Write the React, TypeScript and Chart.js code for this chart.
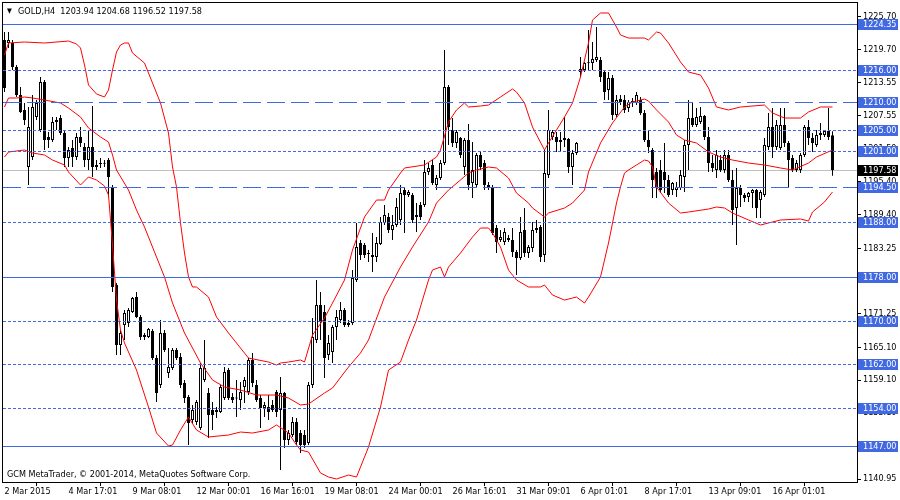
import React, { useEffect, useRef } from "react";
import { Chart, registerables } from "chart.js";

Chart.register(...registerables);

const symbolName = "GOLD,H4";
const copyrightText = "GCM MetaTrader, © 2001-2014, MetaQuotes Software Corp.";

const openPrices = [
  1221.42, 1220.87, 1220.87, 1216.47, 1211.34, 1208.59, 1198.14, 1199.97, 1207.3, 1204.92,
  1213.72, 1203.64, 1203.09, 1206.39, 1207.12, 1204.37, 1199.79, 1201.62, 1199.97, 1203.64,
  1201.81, 1199.42, 1201.81, 1198.51, 1198.69, 1198.87, 1199.42, 1194.48, 1176.51, 1165.52,
  1169.18, 1169.55, 1171.57, 1174.31, 1170.65, 1167.35, 1166.98, 1168.08, 1163.13, 1158.19,
  1167.72, 1160.38, 1161.3, 1164.6, 1163.32, 1158.55, 1155.99, 1151.77, 1151.4, 1150.31,
  1159.1, 1156.72, 1153.6, 1153.24, 1153.24, 1155.8, 1160.93, 1155.99, 1155.8, 1155.44,
  1157.82, 1156.9, 1162.77, 1158.19, 1155.8, 1153.97, 1154.15, 1154.52, 1156.9, 1153.6,
  1156.72, 1148.11, 1149.02, 1151.4, 1149.39, 1149.02, 1147.56, 1158.19, 1166.43, 1172.85,
  1171.57, 1163.68, 1164.23, 1168.82, 1170.1, 1171.93, 1169.55, 1169.55, 1177.43, 1184.21,
  1183.85, 1182.38, 1181.65, 1181.65, 1184.03, 1187.88, 1188.98, 1186.59, 1187.51, 1188.43,
  1193.92, 1193.01, 1193.01, 1188.98, 1191.18, 1191.18, 1197.22, 1198.51, 1194.84, 1196.12,
  1198.87, 1212.8, 1204.92, 1202.54, 1203.46, 1198.14, 1203.09, 1195.21, 1194.84, 1200.34,
  1198.87, 1194.84, 1194.29, 1186.96, 1184.76, 1184.4, 1185.13, 1184.76, 1182.56, 1181.46,
  1186.59, 1182.38, 1183.3, 1186.59, 1187.14, 1182.01, 1196.67, 1203.64, 1203.64, 1203.09,
  1203.09, 1203.27, 1198.14, 1200.71, 1215.55, 1215.92, 1217.2, 1217.2, 1217.75, 1217.75,
  1215.55, 1212.25, 1214.45, 1207.67, 1210.6, 1210.42, 1208.95, 1209.87, 1209.87, 1210.42,
  1208.04, 1203.09, 1201.26, 1197.22, 1197.59, 1197.22, 1195.76, 1193.92, 1193.92, 1194.29,
  1196.31, 1202.17, 1207.12, 1205.84, 1206.39, 1207.49, 1203.64, 1198.87, 1197.59, 1199.42,
  1197.59, 1200.34, 1195.76, 1190.63, 1194.29, 1193.01, 1192.64, 1193.37, 1193.92, 1192.09,
  1193.01, 1201.81, 1205.47, 1201.81, 1201.62, 1205.84, 1202.54, 1199.79, 1197.59, 1197.59,
  1200.34, 1205.47, 1203.46, 1202.17, 1204.0, 1204.0, 1204.74, 1203.94,
];

const highPrices = [
  1222.88, 1222.88, 1221.42, 1216.84, 1212.8, 1209.87, 1209.14, 1211.34, 1210.42, 1214.64,
  1214.09, 1204.56, 1207.3, 1207.3, 1207.67, 1204.92, 1201.81, 1203.09, 1204.37, 1205.47,
  1202.54, 1204.92, 1209.32, 1199.42, 1199.79, 1199.42, 1199.79, 1194.84, 1176.88, 1168.27,
  1171.93, 1172.3, 1174.31, 1175.23, 1171.02, 1167.72, 1168.63, 1168.45, 1163.68, 1170.1,
  1168.27, 1164.97, 1164.97, 1164.97, 1164.05, 1159.1, 1156.35, 1154.52, 1155.44, 1162.22,
  1166.43, 1157.64, 1155.07, 1154.15, 1158.19, 1161.48, 1161.3, 1156.72, 1159.1, 1158.74,
  1159.65, 1163.13, 1164.05, 1159.1, 1156.35, 1155.07, 1156.35, 1155.44, 1157.27, 1159.65,
  1156.9, 1149.94, 1152.32, 1152.14, 1149.94, 1149.94, 1158.74, 1170.47, 1177.43, 1175.23,
  1172.85, 1167.35, 1169.18, 1171.93, 1173.4, 1172.3, 1170.1, 1179.26, 1187.88, 1184.76,
  1184.21, 1182.93, 1186.04, 1185.31, 1188.98, 1191.18, 1189.71, 1189.34, 1192.46, 1194.84,
  1194.29, 1193.92, 1193.37, 1191.54, 1191.73, 1199.42, 1198.87, 1199.42, 1196.67, 1199.42,
  1219.59, 1213.17, 1207.12, 1204.92, 1203.64, 1203.46, 1206.02, 1202.72, 1200.71, 1200.89,
  1199.42, 1195.39, 1194.84, 1187.51, 1186.59, 1186.96, 1185.68, 1186.96, 1182.93, 1188.98,
  1190.63, 1183.85, 1188.06, 1188.43, 1187.51, 1201.26, 1208.59, 1204.92, 1204.56, 1204.56,
  1207.3, 1203.46, 1201.26, 1202.72, 1218.3, 1217.39, 1223.25, 1221.05, 1223.8, 1218.3,
  1215.92, 1215.55, 1215.0, 1211.34, 1211.34, 1211.34, 1210.42, 1210.79, 1211.89, 1210.97,
  1208.59, 1204.92, 1201.62, 1197.96, 1199.42, 1202.54, 1196.67, 1195.39, 1195.39, 1197.59,
  1203.09, 1210.42, 1209.87, 1208.95, 1209.14, 1207.67, 1205.47, 1200.34, 1201.26, 1200.34,
  1201.26, 1201.26, 1197.59, 1197.96, 1194.84, 1193.37, 1193.56, 1194.11, 1194.11, 1193.92,
  1203.46, 1208.04, 1208.95, 1206.76, 1208.95, 1208.95, 1202.91, 1200.34, 1199.42, 1200.71,
  1205.84, 1206.76, 1204.37, 1204.92, 1206.21, 1204.92, 1208.95, 1204.68,
];

const lowPrices = [
  1211.89, 1219.95, 1215.92, 1210.97, 1208.04, 1205.84, 1194.84, 1199.42, 1206.76, 1204.56,
  1201.26, 1201.62, 1202.72, 1204.92, 1204.0, 1198.14, 1198.14, 1198.14, 1199.42, 1201.81,
  1198.14, 1197.59, 1196.31, 1197.59, 1197.96, 1198.14, 1192.64, 1175.23, 1163.68, 1163.68,
  1166.43, 1168.82, 1171.38, 1170.47, 1166.43, 1166.43, 1166.8, 1162.77, 1155.07, 1157.64,
  1164.23, 1159.47, 1160.93, 1162.77, 1157.64, 1154.89, 1147.19, 1151.22, 1150.86, 1149.94,
  1158.74, 1148.47, 1149.94, 1152.14, 1153.05, 1155.44, 1155.44, 1154.89, 1152.32, 1153.6,
  1154.89, 1156.35, 1157.82, 1155.07, 1150.31, 1152.32, 1151.77, 1153.24, 1152.32, 1142.61,
  1146.64, 1147.19, 1148.66, 1147.19, 1145.72, 1146.64, 1147.19, 1157.64, 1165.88, 1166.43,
  1159.47, 1162.77, 1162.22, 1166.43, 1169.55, 1168.82, 1168.82, 1169.18, 1177.07, 1181.1,
  1181.46, 1180.73, 1178.9, 1180.73, 1183.85, 1187.51, 1186.04, 1184.76, 1187.14, 1187.51,
  1186.04, 1192.64, 1187.88, 1186.23, 1188.43, 1190.81, 1196.67, 1194.84, 1193.92, 1195.76,
  1198.51, 1202.17, 1201.81, 1201.62, 1199.79, 1196.67, 1193.92, 1192.46, 1194.29, 1197.59,
  1193.92, 1193.92, 1185.68, 1182.38, 1184.4, 1183.85, 1184.4, 1181.65, 1178.35, 1181.1,
  1181.65, 1181.46, 1182.56, 1186.04, 1180.73, 1180.73, 1196.12, 1203.09, 1200.89, 1200.89,
  1201.81, 1197.04, 1194.84, 1200.34, 1214.64, 1215.55, 1215.92, 1215.92, 1217.39, 1213.72,
  1210.42, 1210.42, 1206.76, 1207.3, 1209.5, 1208.04, 1208.22, 1209.14, 1209.5, 1207.67,
  1202.72, 1200.71, 1192.46, 1192.46, 1193.37, 1193.37, 1192.64, 1193.01, 1192.64, 1193.92,
  1193.56, 1197.59, 1205.47, 1205.47, 1206.02, 1203.09, 1197.22, 1197.22, 1196.12, 1197.22,
  1197.04, 1195.39, 1187.51, 1183.85, 1190.81, 1191.73, 1191.73, 1190.63, 1188.79, 1188.79,
  1192.64, 1201.26, 1199.79, 1201.26, 1201.26, 1201.81, 1194.48, 1197.22, 1197.22, 1197.04,
  1199.97, 1202.17, 1200.89, 1201.81, 1203.09, 1203.64, 1203.09, 1196.52,
];

const closePrices = [
  1212.62, 1221.42, 1216.47, 1211.34, 1208.22, 1206.76, 1205.47, 1209.14, 1209.87, 1213.72,
  1203.09, 1203.09, 1206.39, 1206.76, 1204.37, 1199.79, 1201.26, 1199.97, 1203.64, 1202.54,
  1199.42, 1201.81, 1198.14, 1198.14, 1198.87, 1198.75, 1196.31, 1176.15, 1165.52, 1167.72,
  1171.38, 1171.93, 1174.13, 1170.65, 1166.98, 1166.98, 1168.45, 1163.13, 1156.72, 1167.72,
  1164.6, 1161.48, 1164.6, 1163.13, 1158.19, 1155.8, 1151.22, 1153.6, 1155.07, 1161.3,
  1161.3, 1152.69, 1152.69, 1153.6, 1157.82, 1160.57, 1155.8, 1155.44, 1155.7, 1156.9,
  1159.1, 1162.77, 1158.55, 1155.44, 1153.97, 1154.52, 1153.24, 1153.6, 1153.24, 1156.72,
  1148.11, 1149.39, 1151.4, 1147.74, 1147.19, 1147.19, 1158.19, 1166.98, 1172.85, 1169.73,
  1163.13, 1165.88, 1168.82, 1170.65, 1171.93, 1169.18, 1169.18, 1177.8, 1183.48, 1182.01,
  1182.01, 1182.2, 1182.01, 1184.21, 1188.06, 1189.34, 1186.59, 1187.51, 1190.81, 1193.37,
  1193.01, 1193.56, 1188.43, 1189.34, 1188.98, 1197.22, 1197.96, 1195.21, 1196.12, 1198.87,
  1212.8, 1205.47, 1202.54, 1204.56, 1200.34, 1203.09, 1194.84, 1197.59, 1200.34, 1198.14,
  1194.84, 1194.48, 1186.04, 1184.4, 1185.31, 1186.23, 1184.76, 1182.56, 1181.46, 1186.23,
  1182.38, 1183.48, 1186.59, 1186.96, 1181.65, 1197.04, 1204.92, 1204.56, 1202.72, 1202.72,
  1203.46, 1198.14, 1200.71, 1202.54, 1216.1, 1217.2, 1217.15, 1217.94, 1218.3, 1214.64,
  1211.89, 1214.45, 1207.67, 1210.42, 1210.05, 1208.59, 1210.05, 1210.24, 1211.34, 1208.04,
  1203.09, 1201.81, 1195.76, 1194.48, 1193.92, 1195.76, 1193.01, 1195.21, 1194.48, 1196.67,
  1202.17, 1207.12, 1205.84, 1207.3, 1207.49, 1203.64, 1198.87, 1197.96, 1200.34, 1197.59,
  1200.34, 1195.76, 1190.26, 1194.29, 1193.01, 1192.46, 1193.37, 1193.92, 1190.63, 1193.56,
  1202.17, 1205.47, 1201.81, 1205.84, 1205.84, 1202.54, 1199.42, 1197.59, 1198.87, 1200.34,
  1205.47, 1203.46, 1202.54, 1204.0, 1204.37, 1204.74, 1203.64, 1197.58,
];

// Bollinger bands, bar index -> value
const upperBandBars = [
  0, 1, 5, 10, 16, 18, 19, 20, 21, 23, 25, 26, 27, 28, 29, 30, 31, 32, 35, 37, 39, 41, 42, 43, 44,
  45, 46, 47, 48, 51, 53, 56, 58, 61, 66, 68, 69, 71, 74, 75, 77, 80, 82, 85, 87, 90, 93, 95, 96,
  99, 100, 105, 108, 109, 111, 113, 115, 116, 119, 121, 124, 127, 128, 130, 132, 135, 136, 140,
  142, 144, 146, 147, 149, 151, 153, 154, 156, 160, 161, 163, 164, 166, 169, 171, 174, 176, 178,
  181, 184, 190, 192, 195, 199, 201, 204, 207,
];
const upperBandValues = [
  1218.67, 1220.87, 1221.05, 1220.87, 1221.23, 1220.69, 1219.95, 1216.84, 1213.17, 1211.52,
  1210.97, 1212.25, 1215.92, 1219.22, 1220.5, 1220.87, 1220.87, 1219.04, 1217.2, 1213.54,
  1209.87, 1204.37, 1198.14, 1194.48, 1187.88, 1182.38, 1177.98, 1176.15, 1176.15, 1174.31,
  1170.65, 1167.72, 1165.88, 1163.13, 1162.4, 1161.85, 1162.22, 1162.4, 1162.77, 1162.4,
  1167.35, 1170.47, 1173.21, 1177.43, 1182.93, 1188.98, 1192.09, 1192.09, 1193.92, 1197.04,
  1197.96, 1198.51, 1199.97, 1201.26, 1206.39, 1208.59, 1209.87, 1209.14, 1209.32, 1209.5,
  1210.97, 1212.44, 1211.89, 1209.87, 1205.47, 1201.26, 1202.54, 1207.3, 1209.87, 1214.64,
  1220.87, 1225.08, 1226.37, 1226.37, 1223.8, 1222.33, 1221.78, 1221.78, 1221.42, 1222.88,
  1222.7, 1220.87, 1217.39, 1215.55, 1215.0, 1212.62, 1209.14, 1208.59, 1209.14, 1209.5,
  1208.04, 1207.12, 1207.12, 1208.22, 1209.14, 1209.14,
];

const middleBandBars = [
  0, 1, 3, 5, 7, 10, 14, 16, 19, 21, 24, 26, 27, 28, 31, 33, 35, 37, 40, 42, 45, 49, 52, 55, 59,
  63, 68, 71, 74, 76, 80, 82, 86, 89, 91, 95, 99, 102, 106, 108, 111, 114, 116, 118, 121, 123,
  126, 128, 131, 132, 135, 136, 140, 142, 145, 146, 149, 152, 155, 157, 160, 161, 163, 166, 168,
  170, 173, 176, 179, 182, 186, 190, 194, 197, 201, 203, 207,
];
const middleBandValues = [
  1209.14, 1210.79, 1210.79, 1210.97, 1210.79, 1210.42, 1209.87, 1208.95, 1207.3, 1205.29,
  1203.64, 1202.72, 1200.34, 1197.59, 1193.92, 1190.26, 1187.14, 1183.48, 1177.98, 1173.21,
  1167.72, 1162.22, 1159.1, 1157.82, 1157.27, 1156.35, 1156.35, 1155.8, 1154.52, 1154.7,
  1156.72, 1157.64, 1161.48, 1164.05, 1166.43, 1174.31, 1179.81, 1183.48, 1188.06, 1191.54,
  1193.92, 1195.76, 1197.04, 1197.59, 1198.14, 1197.96, 1196.12, 1193.37, 1191.54, 1190.63,
  1188.98, 1189.71, 1190.63, 1191.54, 1193.92, 1197.22, 1202.54, 1206.21, 1209.14, 1210.05,
  1210.6, 1210.24, 1208.59, 1206.39, 1204.0, 1203.09, 1202.54, 1200.89, 1199.97, 1199.42,
  1198.87, 1198.51, 1197.96, 1197.59, 1198.87, 1199.97, 1201.26,
];

const lowerBandBars = [
  0, 1, 5, 7, 10, 12, 15, 16, 19, 21, 23, 25, 26, 27, 28, 29, 30, 33, 36, 38, 41, 42, 44, 46, 48,
  51, 56, 59, 62, 66, 68, 71, 73, 74, 76, 79, 81, 83, 86, 88, 91, 94, 96, 99, 101, 103, 106, 107,
  109, 110, 111, 114, 117, 119, 121, 122, 124, 126, 128, 131, 134, 135, 137, 140, 142, 143, 145,
  146, 149, 151, 153, 154, 155, 156, 158, 160, 161, 162, 163, 166, 169, 171, 176, 178, 180, 182,
  186, 189, 191, 194, 199, 201, 202, 205, 207,
];
const lowerBandValues = [
  1199.97, 1200.89, 1201.26, 1200.71, 1200.34, 1199.42, 1198.51, 1197.22, 1194.84, 1196.31,
  1195.76, 1194.66, 1193.01, 1183.85, 1173.76, 1168.27, 1165.88, 1160.93, 1154.15, 1149.39,
  1147.01, 1147.19, 1149.94, 1152.32, 1149.94, 1148.66, 1149.02, 1149.57, 1149.39, 1149.94,
  1150.86, 1149.39, 1147.19, 1146.27, 1145.91, 1142.06, 1141.32, 1140.96, 1141.69, 1141.32,
  1146.82, 1154.15, 1160.93, 1162.4, 1166.43, 1170.1, 1177.43, 1179.26, 1179.81, 1177.98,
  1179.81, 1182.38, 1185.31, 1186.96, 1186.96, 1186.04, 1183.48, 1179.26, 1177.43, 1176.15,
  1176.15, 1176.51, 1174.68, 1173.76, 1174.13, 1174.31, 1173.21, 1174.31, 1177.98, 1184.21,
  1191.54, 1194.48, 1197.04, 1197.59, 1198.51, 1199.42, 1199.24, 1198.14, 1194.48, 1191.54,
  1189.71, 1189.89, 1190.44, 1190.81, 1190.63, 1189.71, 1188.43, 1187.51, 1187.88, 1188.43,
  1188.61, 1188.24, 1189.89, 1191.73, 1193.56,
];

const timeTickBars = [0, 16, 32, 48, 64, 80, 96, 112, 128, 144, 160, 176, 192];
const timeTickLabels = [
  "2 Mar 2015", "4 Mar 17:01", "9 Mar 08:01", "12 Mar 00:01", "16 Mar 16:01", "19 Mar 08:01",
  "24 Mar 00:01", "26 Mar 16:01", "31 Mar 09:01", "6 Apr 01:01", "8 Apr 17:01", "13 Apr 09:01",
  "16 Apr 01:01",
];

const priceTicks = [
  1225.7, 1219.7, 1213.55, 1207.55, 1201.5, 1195.4, 1189.4, 1183.25, 1177.25, 1171.25, 1165.1,
  1159.1, 1153.1, 1147.05, 1140.95,
];

const solidLevels = [1224.35, 1178.0, 1147.0];
const dashLevels = [1210.0, 1194.5];
const dotLevels = [1216.0, 1205.0, 1201.0, 1188.0, 1170.0, 1162.0, 1154.0];

const X_MIN = -0.375;
const X_MAX = 213.125;
const Y_MIN = 1140.41;
const Y_MAX = 1228.2;

const FONT_FAMILY = "'DejaVu Sans Condensed', 'DejaVu Sans', sans-serif";
const LEVEL_COLOR = "#4169e1";
const BAND_COLOR = "#ff0000";

const lastIndex = closePrices.length - 1;
const currentPrice = closePrices[lastIndex];

const overlayPlugin = {
  id: "mtOverlay",
  beforeDatasetsDraw(chart: any) {
    const { ctx, chartArea: a, scales } = chart;
    const py = Math.round(scales.y.getPixelForValue(currentPrice)) + 0.5;
    ctx.save();
    ctx.strokeStyle = "#c0c0c0";
    ctx.lineWidth = 1;
    ctx.beginPath();
    ctx.moveTo(a.left, py);
    ctx.lineTo(a.right, py);
    ctx.stroke();
    ctx.restore();
  },
  afterDatasetsDraw(chart: any) {
    const { ctx, chartArea: a, scales } = chart;
    ctx.save();
    const drawLevel = (v: number, dash: number[]) => {
      const py = Math.round(scales.y.getPixelForValue(v)) + 0.5;
      ctx.setLineDash(dash);
      ctx.strokeStyle = LEVEL_COLOR;
      ctx.lineWidth = 1;
      ctx.beginPath();
      ctx.moveTo(a.left, py);
      ctx.lineTo(a.right, py);
      ctx.stroke();
    };
    solidLevels.forEach((v) => drawLevel(v, []));
    dashLevels.forEach((v) => drawLevel(v, [18, 6]));
    dotLevels.forEach((v) => drawLevel(v, [3, 2]));
    ctx.restore();
  },
  afterDraw(chart: any) {
    const { ctx, chartArea: a, scales } = chart;
    ctx.save();
    // frame
    ctx.strokeStyle = "#000";
    ctx.lineWidth = 1;
    ctx.setLineDash([]);
    ctx.strokeRect(a.left - 0.5, a.top - 0.5, a.right - a.left + 1, a.bottom - a.top + 1);

    // title
    ctx.fillStyle = "#000";
    ctx.textBaseline = "middle";
    ctx.textAlign = "left";
    ctx.font = `7px ${FONT_FAMILY}`;
    ctx.fillText("▼", a.left + 4, a.top + 8.5);
    ctx.font = `9px ${FONT_FAMILY}`;
    const f = (v: number) => v.toFixed(2);
    const title = `${symbolName}  ${f(openPrices[lastIndex])} ${f(highPrices[lastIndex])} ${f(
      lowPrices[lastIndex]
    )} ${f(closePrices[lastIndex])}`;
    ctx.fillText(title, a.left + 15, a.top + 8.5);

    // copyright
    ctx.fillText(copyrightText, a.left + 4, a.bottom - 7);

    // price boxes
    const drawBox = (v: number, bg: string) => {
      const py = Math.round(scales.y.getPixelForValue(v));
      ctx.fillStyle = bg;
      ctx.fillRect(a.right + 1, py - 5, 40, 11);
      ctx.fillStyle = "#fff";
      ctx.font = `9px ${FONT_FAMILY}`;
      ctx.fillText(v.toFixed(2), a.right + 6, py + 0.5);
    };
    [...solidLevels, ...dashLevels, ...dotLevels].forEach((v) => drawBox(v, LEVEL_COLOR));
    drawBox(currentPrice, "#000");
    ctx.restore();
  },
};

export default function App() {
  const canvasRef = useRef<HTMLCanvasElement | null>(null);

  useEffect(() => {
    const canvas = canvasRef.current;
    if (!canvas) return;

    const bars = closePrices.map((_, i) => i);
    const wickData = bars.map((i) => ({ x: i, y: [lowPrices[i], highPrices[i]] }));
    const bodyData = bars.map((i) => ({ x: i, y: [openPrices[i], closePrices[i]] }));
    const bodyColors = bars.map((i) => (closePrices[i] > openPrices[i] ? "#ffffff" : "#000000"));
    const toPoints = (xs: number[], ys: number[]) => xs.map((x, k) => ({ x, y: ys[k] }));

    const bandStyle = {
      type: "line" as const,
      borderColor: BAND_COLOR,
      borderWidth: 1,
      pointRadius: 0,
      tension: 0,
      fill: false,
      order: 0,
    };

    const font = { family: FONT_FAMILY, size: 9 };

    const chart = new Chart(canvas, {
      type: "bar",
      data: {
        datasets: [
          { ...bandStyle, label: "Upper", data: toPoints(upperBandBars, upperBandValues) },
          { ...bandStyle, label: "Middle", data: toPoints(middleBandBars, middleBandValues) },
          { ...bandStyle, label: "Lower", data: toPoints(lowerBandBars, lowerBandValues) },
          {
            type: "bar",
            label: "Body",
            data: bodyData as any,
            backgroundColor: bodyColors,
            borderColor: "#000000",
            borderWidth: 1,
            borderSkipped: false,
            barThickness: 3,
            grouped: false,
            minBarLength: 1,
            inflateAmount: 0,
            order: 1,
          } as any,
          {
            type: "bar",
            label: "Wick",
            data: wickData as any,
            backgroundColor: "#000000",
            borderWidth: 0,
            barThickness: 1,
            grouped: false,
            inflateAmount: 0,
            order: 2,
          } as any,
        ],
      },
      options: {
        animation: false,
        responsive: false,
        maintainAspectRatio: false,
        events: [],
        layout: { padding: { left: 3, top: 3, right: 0, bottom: 0 } },
        plugins: {
          legend: { display: false },
          tooltip: { enabled: false },
          title: { display: false },
        },
        scales: {
          x: {
            type: "linear",
            min: X_MIN,
            max: X_MAX,
            offset: false,
            afterBuildTicks: (s: any) => {
              s.ticks = timeTickBars.map((b) => ({ value: b }));
            },
            afterFit: (s: any) => {
              s.height = 18;
              s.paddingLeft = 0;
              s.paddingRight = 0;
            },
            grid: { drawOnChartArea: false, drawTicks: true, tickLength: 4, color: "#000" },
            border: { display: false },
            ticks: {
              autoSkip: false,
              maxRotation: 0,
              minRotation: 0,
              align: "start",
              padding: 0,
              font,
              color: "#000",
              callback: (_v: any, idx: number) => timeTickLabels[idx],
            },
          },
          y: {
            type: "linear",
            position: "right",
            min: Y_MIN,
            max: Y_MAX,
            afterBuildTicks: (s: any) => {
              s.ticks = priceTicks.map((v) => ({ value: v }));
            },
            afterFit: (s: any) => {
              s.width = 43;
              s.paddingTop = 0;
              s.paddingBottom = 0;
            },
            grid: { drawOnChartArea: false, drawTicks: true, tickLength: 4, color: "#000" },
            border: { display: false },
            ticks: {
              autoSkip: false,
              padding: 2,
              font,
              color: "#000",
              callback: (v: any) => Number(v).toFixed(2),
            },
          },
        },
      } as any,
      plugins: [overlayPlugin],
    });

    return () => chart.destroy();
  }, []);

  return (
    <div style={{ position: "absolute", left: 0, top: 0, width: 900, height: 500, background: "#fff" }}>
      <canvas ref={canvasRef} width={900} height={500} style={{ display: "block", width: 900, height: 500 }} />
    </div>
  );
}
